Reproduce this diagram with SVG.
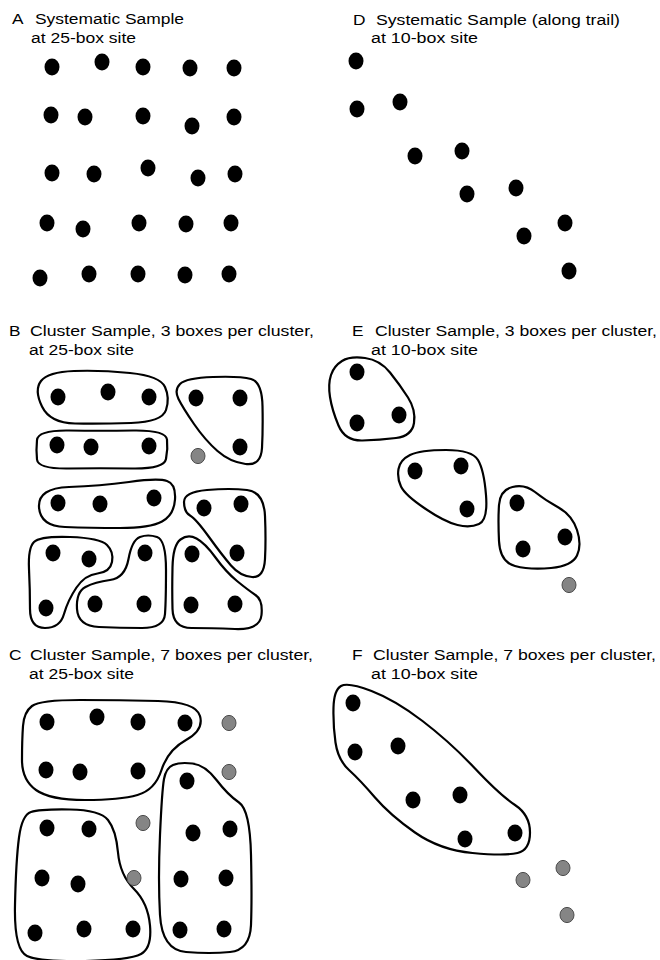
<svg xmlns="http://www.w3.org/2000/svg" width="660" height="960" viewBox="0 0 660 960">
<style>
.t{font-family:"Liberation Sans",Arial,Helvetica,sans-serif;font-size:15.5px;fill:#000}
.d{fill:#000}
.g{fill:#858585;stroke:#4d4d4d;stroke-width:1}
.cl{fill:none;stroke:#000;stroke-width:2.2;stroke-linejoin:round}
</style>
<rect width="660" height="960" fill="#fff"/>

<!-- Panel A -->
<g id="panelA">
<text class="t" x="12" y="24" textLength="11.5" lengthAdjust="spacingAndGlyphs">A</text>
<text class="t" x="35" y="24" textLength="149" lengthAdjust="spacingAndGlyphs">Systematic Sample</text>
<text class="t" x="31" y="43" textLength="105" lengthAdjust="spacingAndGlyphs">at 25-box site</text>
<g id="A-dots">
<ellipse class="d" cx="52" cy="67" rx="7.5" ry="8.4"/><ellipse class="d" cx="102" cy="62" rx="7.5" ry="8.4"/><ellipse class="d" cx="143" cy="67" rx="7.5" ry="8.4"/><ellipse class="d" cx="190" cy="68" rx="7.5" ry="8.4"/><ellipse class="d" cx="234" cy="68" rx="7.5" ry="8.4"/>
<ellipse class="d" cx="51" cy="115" rx="7.5" ry="8.4"/><ellipse class="d" cx="85" cy="117" rx="7.5" ry="8.4"/><ellipse class="d" cx="143" cy="116" rx="7.5" ry="8.4"/><ellipse class="d" cx="192" cy="126" rx="7.5" ry="8.4"/><ellipse class="d" cx="234" cy="117" rx="7.5" ry="8.4"/>
<ellipse class="d" cx="52" cy="173" rx="7.5" ry="8.4"/><ellipse class="d" cx="94" cy="174" rx="7.5" ry="8.4"/><ellipse class="d" cx="148" cy="168" rx="7.5" ry="8.4"/><ellipse class="d" cx="198" cy="178" rx="7.5" ry="8.4"/><ellipse class="d" cx="235" cy="174" rx="7.5" ry="8.4"/>
<ellipse class="d" cx="47" cy="223" rx="7.5" ry="8.4"/><ellipse class="d" cx="83" cy="229" rx="7.5" ry="8.4"/><ellipse class="d" cx="139" cy="223" rx="7.5" ry="8.4"/><ellipse class="d" cx="186" cy="224" rx="7.5" ry="8.4"/><ellipse class="d" cx="231" cy="223" rx="7.5" ry="8.4"/>
<ellipse class="d" cx="40" cy="278" rx="7.5" ry="8.4"/><ellipse class="d" cx="89" cy="274" rx="7.5" ry="8.4"/><ellipse class="d" cx="138" cy="274" rx="7.5" ry="8.4"/><ellipse class="d" cx="185" cy="275" rx="7.5" ry="8.4"/><ellipse class="d" cx="229" cy="274" rx="7.5" ry="8.4"/>
</g>
</g>

<!-- Panel D -->
<g id="panelD">
<text class="t" x="353" y="25" textLength="12.5" lengthAdjust="spacingAndGlyphs">D</text>
<text class="t" x="376" y="25" textLength="244" lengthAdjust="spacingAndGlyphs">Systematic Sample (along trail)</text>
<text class="t" x="371" y="43" textLength="107" lengthAdjust="spacingAndGlyphs">at 10-box site</text>
<g id="D-dots">
<ellipse class="d" cx="356" cy="61" rx="7.5" ry="8.4"/><ellipse class="d" cx="357" cy="109" rx="7.5" ry="8.4"/><ellipse class="d" cx="400" cy="102" rx="7.5" ry="8.4"/><ellipse class="d" cx="415" cy="156" rx="7.5" ry="8.4"/><ellipse class="d" cx="462" cy="151" rx="7.5" ry="8.4"/>
<ellipse class="d" cx="467" cy="194" rx="7.5" ry="8.4"/><ellipse class="d" cx="516" cy="188" rx="7.5" ry="8.4"/><ellipse class="d" cx="524" cy="236" rx="7.5" ry="8.4"/><ellipse class="d" cx="565" cy="223" rx="7.5" ry="8.4"/><ellipse class="d" cx="569" cy="271" rx="7.5" ry="8.4"/>
</g>
</g>

<!-- Panel B -->
<g id="panelB">
<text class="t" x="9" y="336" textLength="11.5" lengthAdjust="spacingAndGlyphs">B</text>
<text class="t" x="30" y="336" textLength="284" lengthAdjust="spacingAndGlyphs">Cluster Sample, 3 boxes per cluster,</text>
<text class="t" x="29" y="355" textLength="105" lengthAdjust="spacingAndGlyphs">at 25-box site</text>
<g id="B-c1"><path class="cl" d="M42,406.5 Q34,390 41,381 Q48,372 74,371 Q100,370 130,373 Q160,376 165,387 Q170,398 166,410 Q162,422 131,423 Q100,424 75,423.5 Q50,423 42,406.5 Z"/>
<ellipse class="d" cx="58" cy="397" rx="7.5" ry="8.4"/><ellipse class="d" cx="108" cy="392" rx="7.5" ry="8.4"/><ellipse class="d" cx="149" cy="397" rx="7.5" ry="8.4"/></g>
<g id="B-c2"><path class="cl" d="M37,440 Q38,430 69,430.5 Q100,431 133,430.5 Q166,430 167,439.5 Q168,449 166,459 Q164,469 132,468.5 Q100,468 69,468.5 Q38,469 37,459.5 Q36,450 37,440 Z"/>
<ellipse class="d" cx="57" cy="445" rx="7.5" ry="8.4"/><ellipse class="d" cx="91" cy="447" rx="7.5" ry="8.4"/><ellipse class="d" cx="149" cy="446" rx="7.5" ry="8.4"/></g>
<g id="B-c3"><path class="cl" d="M178.5,399 Q174,390 180,384 Q186,378 213,377 Q240,376 251,379 Q262,382 262.5,406 Q263,430 262,448 Q261,466 245.5,464 Q230,462 217.5,451 Q205,440 194,424 Q183,408 178.5,399 Z"/>
<ellipse class="d" cx="196" cy="398" rx="7.5" ry="8.4"/><ellipse class="d" cx="240" cy="398" rx="7.5" ry="8.4"/><ellipse class="d" cx="240" cy="447" rx="7.5" ry="8.4"/></g>
<g id="B-gray"><ellipse class="g" cx="198" cy="456" rx="7" ry="7.6"/></g>
<g id="B-c4"><path class="cl" d="M39,507 Q38,488 69,487 Q100,486 129,482 Q158,478 167,481 Q176,484 175,499.5 Q174,515 162,521.5 Q150,528 120,528 Q90,528 65,527 Q40,526 39,507 Z"/>
<ellipse class="d" cx="58" cy="503" rx="7.5" ry="8.4"/><ellipse class="d" cx="100" cy="504" rx="7.5" ry="8.4"/><ellipse class="d" cx="154" cy="498" rx="7.5" ry="8.4"/></g>
<g id="B-c5"><path class="cl" d="M184,502 Q184,492 207,490 Q230,488 247,490 Q264,492 265,516 Q266,540 265,559 Q264,578 252,577 Q240,576 231,565.5 Q222,555 209,537 Q196,519 190,515.5 Q184,512 184,502 Z"/>
<ellipse class="d" cx="204" cy="508" rx="7.5" ry="8.4"/><ellipse class="d" cx="241" cy="504" rx="7.5" ry="8.4"/><ellipse class="d" cx="237" cy="553" rx="7.5" ry="8.4"/></g>
<g id="B-c6"><path class="cl" d="M29,569 Q28,548 34,542 Q40,536 70,537 Q100,538 107,545 Q114,552 112,562 Q110,572 97.5,573.5 Q85,575 76.5,587.5 Q68,600 64,614 Q60,628 45,628 Q30,628 30,609 Q30,590 29,569 Z"/>
<ellipse class="d" cx="53" cy="553" rx="7.5" ry="8.4"/><ellipse class="d" cx="89" cy="559" rx="7.5" ry="8.4"/><ellipse class="d" cx="46" cy="608" rx="7.5" ry="8.4"/></g>
<g id="B-c7"><path class="cl" d="M77,609 Q76,592 85.5,587 Q95,582 110,580 Q125,578 128.5,559 Q132,540 140,537 Q148,534 157,537 Q166,540 166,570 Q166,600 165,614 Q164,628 142,628 Q120,628 99,627 Q78,626 77,609 Z"/>
<ellipse class="d" cx="145" cy="553" rx="7.5" ry="8.4"/><ellipse class="d" cx="95" cy="604" rx="7.5" ry="8.4"/><ellipse class="d" cx="144" cy="604" rx="7.5" ry="8.4"/></g>
<g id="B-c8"><path class="cl" d="M172.5,567.5 Q173,545 180.5,539.5 Q188,534 196.5,538.5 Q205,543 215.5,557.5 Q226,572 237,581 Q248,590 255.5,595 Q263,600 261.5,615 Q260,630 235,629 Q210,628 191.5,628 Q173,628 172.5,609 Q172,590 172.5,567.5 Z"/>
<ellipse class="d" cx="192" cy="554" rx="7.5" ry="8.4"/><ellipse class="d" cx="191" cy="605" rx="7.5" ry="8.4"/><ellipse class="d" cx="235" cy="604" rx="7.5" ry="8.4"/></g>
</g>

<!-- Panel E -->
<g id="panelE">
<text class="t" x="352" y="336" textLength="11.5" lengthAdjust="spacingAndGlyphs">E</text>
<text class="t" x="375" y="336" textLength="282" lengthAdjust="spacingAndGlyphs">Cluster Sample, 3 boxes per cluster,</text>
<text class="t" x="371" y="355" textLength="107" lengthAdjust="spacingAndGlyphs">at 10-box site</text>
<g id="E-c1"><path class="cl" d="M331,375 Q334,366 342,361 Q350,356 365,358 Q380,360 390,372.5 Q400,385 408,397.5 Q416,410 414,423 Q412,436 396,438 Q380,440 362.5,440.5 Q345,441 338.5,425.5 Q332,410 330,397 Q328,384 331,375 Z"/>
<ellipse class="d" cx="357" cy="372" rx="7.5" ry="8.4"/><ellipse class="d" cx="357" cy="423" rx="7.5" ry="8.4"/><ellipse class="d" cx="399" cy="415" rx="7.5" ry="8.4"/></g>
<g id="E-c2"><path class="cl" d="M398.5,469 Q400,460 410,455 Q420,450 446,450 Q472,450 478,460 Q484,470 486,495 Q488,520 479,524 Q470,528 457.5,525 Q445,522 425,508.5 Q405,495 401,486.5 Q397,478 398.5,469 Z"/>
<ellipse class="d" cx="415" cy="471" rx="7.5" ry="8.4"/><ellipse class="d" cx="461" cy="466" rx="7.5" ry="8.4"/><ellipse class="d" cx="467" cy="509" rx="7.5" ry="8.4"/></g>
<g id="E-c3"><path class="cl" d="M499,505 Q500,490 512.5,487 Q525,484 535,492 Q545,500 558.5,507.5 Q572,515 577,530 Q582,545 577,555.5 Q572,566 551,568 Q530,570 515,566 Q500,562 499,541 Q498,520 499,505 Z"/>
<ellipse class="d" cx="517" cy="503" rx="7.5" ry="8.4"/><ellipse class="d" cx="565" cy="537" rx="7.5" ry="8.4"/><ellipse class="d" cx="523" cy="549" rx="7.5" ry="8.4"/></g>
<g id="E-gray"><ellipse class="g" cx="569" cy="585" rx="7" ry="7.6"/></g>
</g>

<!-- Panel C -->
<g id="panelC">
<text class="t" x="9" y="660" textLength="12.5" lengthAdjust="spacingAndGlyphs">C</text>
<text class="t" x="30" y="660" textLength="283" lengthAdjust="spacingAndGlyphs">Cluster Sample, 7 boxes per cluster,</text>
<text class="t" x="29" y="679" textLength="105" lengthAdjust="spacingAndGlyphs">at 25-box site</text>
<g id="C-top"><path class="cl" d="M23,726 Q24,712 32,706 Q40,700 80,700 Q120,700 158,701 Q196,702 200,716 Q204,730 186,740 Q168,750 161.5,770 Q155,790 137.5,795 Q120,800 85,800 Q50,800 36,790 Q22,780 22,760 Q22,740 23,726 Z"/>
<ellipse class="d" cx="47" cy="722" rx="7.5" ry="8.4"/><ellipse class="d" cx="97" cy="717" rx="7.5" ry="8.4"/><ellipse class="d" cx="138" cy="722" rx="7.5" ry="8.4"/><ellipse class="d" cx="185" cy="723" rx="7.5" ry="8.4"/>
<ellipse class="d" cx="46" cy="770" rx="7.5" ry="8.4"/><ellipse class="d" cx="80" cy="772" rx="7.5" ry="8.4"/><ellipse class="d" cx="138" cy="771" rx="7.5" ry="8.4"/></g>
<g id="C-left"><path class="cl" d="M19,837.5 Q22,815 31,812 Q40,809 70,809.5 Q100,810 108,820 Q116,830 118,852.5 Q120,875 134,889 Q148,903 150,925.5 Q152,948 141,954 Q130,960 85,961 Q40,962 27,956 Q14,950 15,905 Q16,860 19,837.5 Z"/>
<ellipse class="d" cx="47" cy="828" rx="7.5" ry="8.4"/><ellipse class="d" cx="89" cy="829" rx="7.5" ry="8.4"/><ellipse class="d" cx="42" cy="878" rx="7.5" ry="8.4"/><ellipse class="d" cx="78" cy="884" rx="7.5" ry="8.4"/>
<ellipse class="d" cx="35" cy="933" rx="7.5" ry="8.4"/><ellipse class="d" cx="84" cy="929" rx="7.5" ry="8.4"/><ellipse class="d" cx="133" cy="929" rx="7.5" ry="8.4"/></g>
<g id="C-right"><path class="cl" d="M164,779 Q166,768 173,765 Q180,762 192.5,763.5 Q205,765 216.5,780 Q228,795 239,802.5 Q250,810 251,855 Q252,900 251,925 Q250,950 230,952 Q210,954 186,952 Q162,950 160,915 Q158,880 160,835 Q162,790 164,779 Z"/>
<ellipse class="d" cx="187" cy="781" rx="7.5" ry="8.4"/><ellipse class="d" cx="193" cy="833" rx="7.5" ry="8.4"/><ellipse class="d" cx="230" cy="829" rx="7.5" ry="8.4"/><ellipse class="d" cx="181" cy="879" rx="7.5" ry="8.4"/>
<ellipse class="d" cx="226" cy="878" rx="7.5" ry="8.4"/><ellipse class="d" cx="180" cy="930" rx="7.5" ry="8.4"/><ellipse class="d" cx="224" cy="929" rx="7.5" ry="8.4"/></g>
<g id="C-gray">
<ellipse class="g" cx="229" cy="723" rx="7" ry="7.6"/><ellipse class="g" cx="229" cy="772" rx="7" ry="7.6"/><ellipse class="g" cx="143" cy="823" rx="7" ry="7.6"/><ellipse class="g" cx="134" cy="878" rx="7" ry="7.6"/>
</g>
</g>

<!-- Panel F -->
<g id="panelF">
<text class="t" x="352" y="660" textLength="10.6" lengthAdjust="spacingAndGlyphs">F</text>
<text class="t" x="373" y="660" textLength="283" lengthAdjust="spacingAndGlyphs">Cluster Sample, 7 boxes per cluster,</text>
<text class="t" x="371" y="679" textLength="107" lengthAdjust="spacingAndGlyphs">at 10-box site</text>
<g id="F-c1"><path class="cl" d="M333.5,707.5 Q334,690 341,686 Q348,682 371.5,691 Q395,700 422.5,721 Q450,742 475,768.5 Q500,795 515,805 Q530,815 530,832.5 Q530,850 517.5,853 Q505,856 472.5,853 Q440,850 415,832.5 Q390,815 375,797.5 Q360,780 349,770 Q338,760 335.5,742.5 Q333,725 333.5,707.5 Z"/>
<ellipse class="d" cx="353" cy="703" rx="7.5" ry="8.4"/><ellipse class="d" cx="355" cy="752" rx="7.5" ry="8.4"/><ellipse class="d" cx="398" cy="746" rx="7.5" ry="8.4"/><ellipse class="d" cx="413" cy="800" rx="7.5" ry="8.4"/>
<ellipse class="d" cx="460" cy="795" rx="7.5" ry="8.4"/><ellipse class="d" cx="465" cy="839" rx="7.5" ry="8.4"/><ellipse class="d" cx="515" cy="833" rx="7.5" ry="8.4"/></g>
<g id="F-gray">
<ellipse class="g" cx="523" cy="880" rx="7" ry="7.6"/><ellipse class="g" cx="563" cy="868" rx="7" ry="7.6"/><ellipse class="g" cx="567" cy="915" rx="7" ry="7.6"/>
</g>
</g>
<g id="connectors"/>
</svg>
